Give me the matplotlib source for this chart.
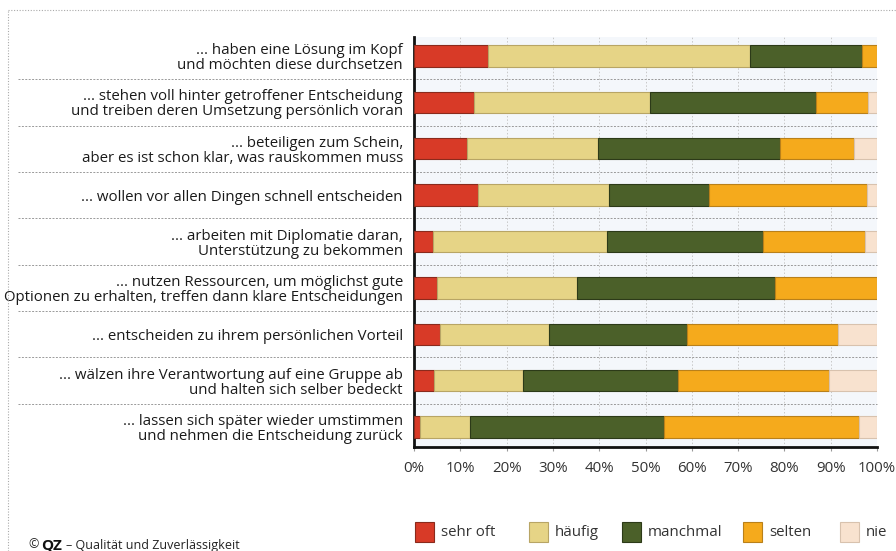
import matplotlib
matplotlib.use("Agg")
import matplotlib.pyplot as plt
from matplotlib.transforms import blended_transform_factory
from matplotlib.patches import Rectangle
from matplotlib.lines import Line2D

plt.rcParams['font.family'] = ['Open Sans', 'DejaVu Sans']

categories = [
    "... haben eine Lösung im Kopf\nund möchten diese durchsetzen",
    "... stehen voll hinter getroffener Entscheidung\nund treiben deren Umsetzung persönlich voran",
    "... beteiligen zum Schein,\naber es ist schon klar, was rauskommen muss",
    "... wollen vor allen Dingen schnell entscheiden",
    "... arbeiten mit Diplomatie daran,\nUnterstützung zu bekommen",
    "... nutzen Ressourcen, um möglichst gute\nOptionen zu erhalten, treffen dann klare Entscheidungen",
    "... entscheiden zu ihrem persönlichen Vorteil",
    "... wälzen ihre Verantwortung auf eine Gruppe ab\nund halten sich selber bedeckt",
    "... lassen sich später wieder umstimmen\nund nehmen die Entscheidung zurück",
]
series_names = ["sehr oft", "häufig", "manchmal", "selten", "nie"]
sehr_oft = [16.0, 13.0, 11.5, 13.8, 4.2, 4.9, 5.6, 4.3, 1.3]
haeufig = [56.6, 38.0, 28.3, 28.3, 37.4, 30.4, 23.6, 19.3, 10.8]
manchmal = [24.2, 35.8, 39.2, 21.6, 33.7, 42.7, 29.7, 33.5, 41.9]
selten = [3.2, 11.3, 16.0, 34.1, 22.1, 22.0, 32.7, 32.5, 42.2]
nie = [0.0, 1.9, 5.0, 2.2, 2.6, 0.0, 8.4, 10.4, 3.8]
tick_labels = ["0%", "10%", "20%", "30%", "40%", "50%", "60%", "70%", "80%", "90%", "100%"]

colors = ["#d83a27", "#e6d486", "#4b6029", "#f5aa1c", "#f8e2cf"]
edges = ["#8a2a1c", "#b8a565", "#2c3a18", "#b9801a", "#d8c2ae"]

W, H = 896, 551
fig = plt.figure(figsize=(W / 100, H / 100), dpi=100)
fig.patch.set_facecolor("white")
ax_l, ax_r, ax_t, ax_b = 414, 877, 37, 447
ax = fig.add_axes([ax_l / W, 1 - ax_b / H, (ax_r - ax_l) / W, (ax_b - ax_t) / H])
ax.set_facecolor("#f4f7fb")

series = [sehr_oft, haeufig, manchmal, selten, nie]
y = list(range(len(categories)))
left = [0.0] * len(categories)
for vals, c, e, name in zip(series, colors, edges, series_names):
    ax.barh(y, vals, left=left, height=0.46, color=c, edgecolor=e, linewidth=0.8, label=name, zorder=3)
    left = [l + v for l, v in zip(left, vals)]

ax.set_xlim(0, 100)
ax.set_ylim(8.43, -0.41)
ax.set_xticks(range(0, 101, 10))
ax.set_xticklabels(tick_labels, fontsize=10.8, color="#333333")
ax.tick_params(axis='x', length=3, color="#999999", pad=7)
ax.set_yticks(y)
ax.set_yticklabels(categories, fontsize=10.8, color="#1a1a1a", linespacing=1.0)
ax.tick_params(axis='y', length=0, pad=8)

# vertical grid
for x in range(10, 101, 10):
    ax.axvline(x, color="#c8c8c8", linestyle=(0, (1.5, 2)), linewidth=0.7, zorder=1)

# row separators spanning label area
tr = blended_transform_factory(ax.transAxes, ax.transData)
x0 = (18 - ax_l) / (ax_r - ax_l)
for i in range(len(categories) - 1):
    ax.plot([x0, 1.0], [i + 0.5, i + 0.5], transform=tr, clip_on=False,
            color="#9a9a9a", linestyle=(0, (2, 1.5)), linewidth=0.7, zorder=2)

for s in ["top", "right"]:
    ax.spines[s].set_visible(False)
ax.spines["left"].set_linewidth(2)
ax.spines["bottom"].set_linewidth(2)
ax.spines["left"].set_color("#111111")
ax.spines["bottom"].set_color("#111111")

# outer dotted frame
fig.add_artist(Line2D([8 / W, 8 / W], [0, 1 - 10 / H], transform=fig.transFigure,
                      color="#aaaaaa", linestyle=(0, (1, 1.5)), linewidth=0.8))
fig.add_artist(Line2D([8 / W, 1.0], [1 - 10 / H, 1 - 10 / H], transform=fig.transFigure,
                      color="#aaaaaa", linestyle=(0, (1, 1.5)), linewidth=0.8))

# legend
leg_x = [415, 529, 622, 743, 840]
for lx, c, e, name in zip(leg_x, colors, edges, series_names):
    fig.add_artist(Rectangle((lx / W, 1 - 542 / H), 19 / W, 20 / H, transform=fig.transFigure,
                             facecolor=c, edgecolor=e, linewidth=0.8))
    fig.text((lx + 26) / W, 1 - 533 / H, name, fontsize=10.8, color="#333333",
             va="center", ha="left")

# footer
fig.text(28 / W, 1 - 545 / H, "©", fontsize=9, va="center", ha="left", color="#222222")
fig.text(41 / W, 1 - 545 / H, "QZ", fontsize=11, fontweight="bold", va="center", ha="left", color="#111111")
fig.text(66 / W, 1 - 545 / H, "– Qualität und Zuverlässigkeit", fontsize=9, va="center", ha="left", color="#222222")

fig.savefig("out.png", dpi=100)
